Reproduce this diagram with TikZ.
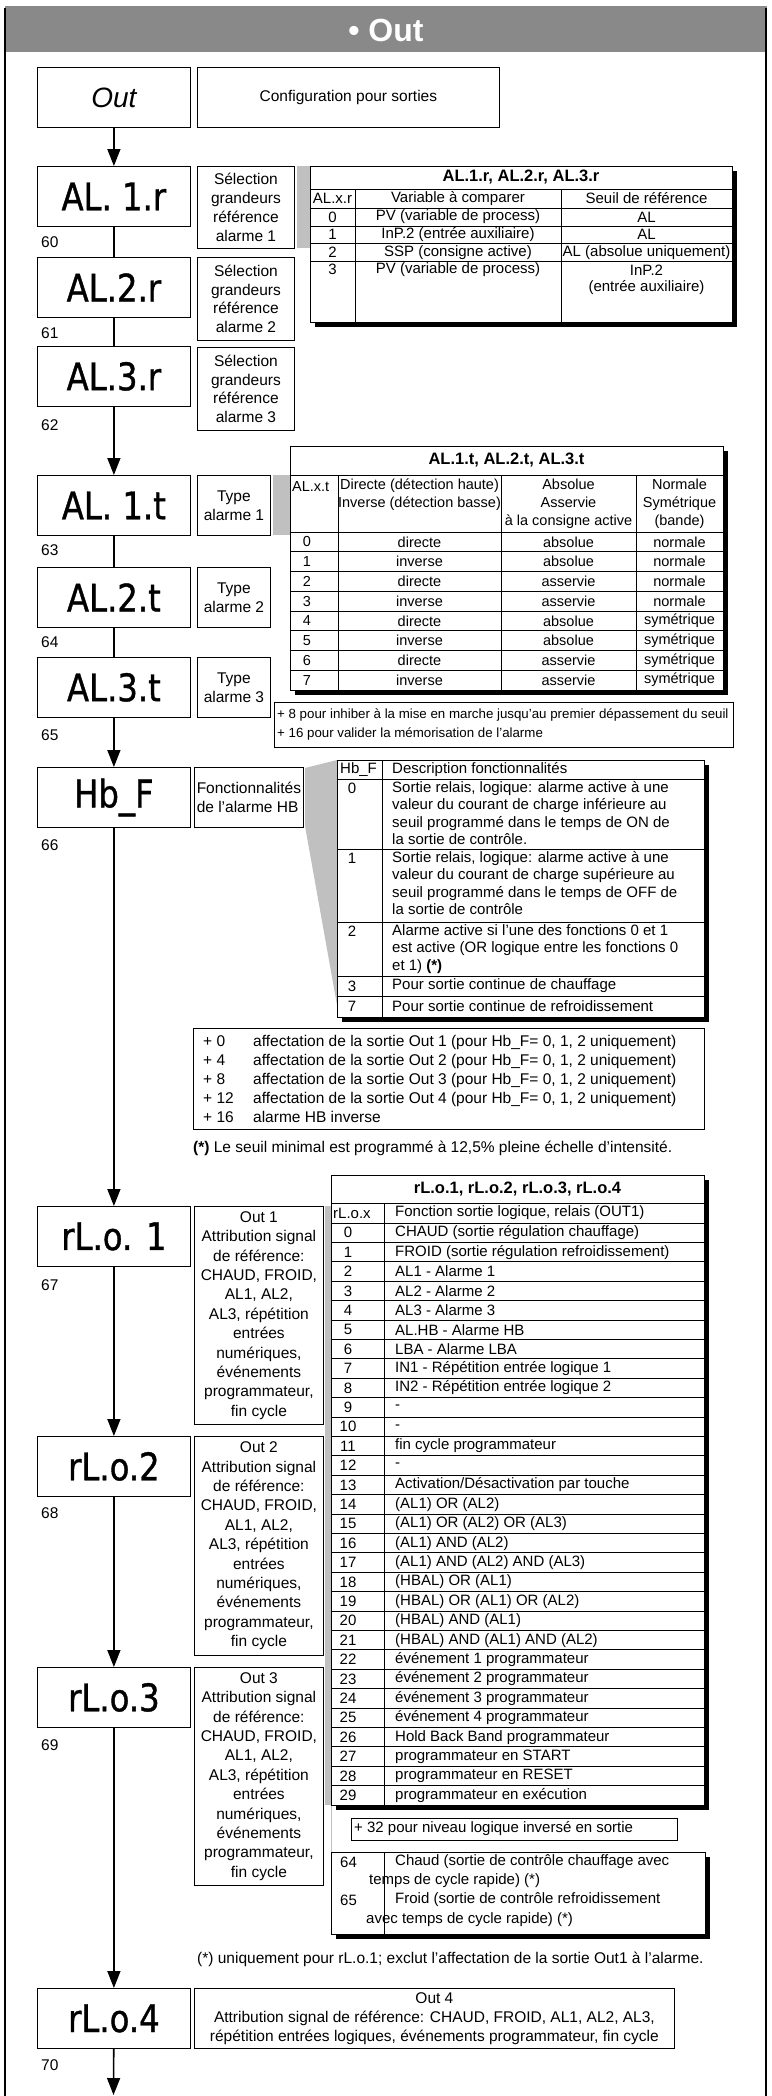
\documentclass[tikz,border=0pt]{standalone}
\usepackage{fontspec}
\setmainfont{Liberation Sans}
\newfontfamily\segfont{DejaVu Sans}[FakeStretch=0.85, FakeBold=1]
\usetikzlibrary{arrows.meta,shadows}
\definecolor{headgray}{RGB}{137,137,137}
\definecolor{wedgegray}{RGB}{192,192,192}

\begin{document}
\begin{tikzpicture}[x=1pt, y=-1pt,
    box/.style={draw, line width=0.8pt, inner sep=2pt, anchor=north west, align=center,
        font=\fontsize{15.5}{18.7}\selectfont},
    disp/.style={box, minimum width=153pt, minimum height=60pt,
        font=\segfont\fontsize{38}{38}\selectfont},
    pnum/.style={anchor=west, inner sep=0pt, font=\fontsize{15.5}{15.5}\selectfont},
    tab/.style={draw, line width=0.9pt, fill=white, anchor=north west, inner sep=0pt,
        drop shadow={shadow xshift=5pt, shadow yshift=-5pt, opacity=1, fill=black}},
    cell/.style={inner sep=0pt, font=\fontsize{15}{17.5}\selectfont},
    ttl/.style={inner sep=0pt, font=\bfseries\fontsize{16.5}{16.5}\selectfont},
    tline/.style={line width=0.8pt},
    flow/.style={line width=1.6pt, -{Triangle[length=17pt, width=13pt]}},
    link/.style={line width=1.6pt}
]
\useasboundingbox (0,0) rectangle (771,2096);

% header and frame
\fill[headgray] (5,6) rectangle (767,52);
\node[font=\bfseries\fontsize{32}{32}\selectfont, text=white] (title) at (386,30) {• Out};
\draw[line width=2.5pt] (5,8) -- (5,2096);
\draw[line width=2.5pt] (766,8) -- (766,2096);

% parameter column
\node[box, minimum width=153pt, minimum height=60pt, font=\itshape\fontsize{28}{28}\selectfont] (out) at (37,67) {Out};
\node[box, minimum width=302pt, minimum height=60pt] (conf) at (197,67) {Configuration pour sorties};

\node[disp] (al1r) at (37,166) {AL. 1.r};
\node[disp] (al2r) at (37,257) {AL.2.r};
\node[disp] (al3r) at (37,346) {AL.3.r};
\node[disp] (al1t) at (37,475) {AL. 1.t};
\node[disp] (al2t) at (37,567) {AL.2.t};
\node[disp] (al3t) at (37,657) {AL.3.t};
\node[disp] (hbf) at (37,767) {Hb\_F};
\node[disp] (rlo1) at (37,1206) {rL.o. 1};
\node[disp] (rlo2) at (37,1436) {rL.o.2};
\node[disp] (rlo3) at (37,1667) {rL.o.3};
\node[disp] (rlo4) at (37,1988) {rL.o.4};

\node[pnum] (n60) at (41,242) {60};
\node[pnum] (n61) at (41,333) {61};
\node[pnum] (n62) at (41,425) {62};
\node[pnum] (n63) at (41,550) {63};
\node[pnum] (n64) at (41,642) {64};
\node[pnum] (n65) at (41,735) {65};
\node[pnum] (n66) at (41,845) {66};
\node[pnum] (n67) at (41,1285) {67};
\node[pnum] (n68) at (41,1513) {68};
\node[pnum] (n69) at (41,1745) {69};
\node[pnum] (n70) at (41,2065) {70};

\coordinate (fin) at (113.5,2095);
\draw[flow] (out) -- (al1r);
\draw[link] (al1r) -- (al2r);
\draw[link] (al2r) -- (al3r);
\draw[flow] (al3r) -- (al1t);
\draw[link] (al1t) -- (al2t);
\draw[link] (al2t) -- (al3t);
\draw[flow] (al3t) -- (hbf);
\draw[flow] (hbf) -- (rlo1);
\draw[flow] (rlo1) -- (rlo2);
\draw[flow] (rlo2) -- (rlo3);
\draw[flow] (rlo3) -- (rlo4);
\draw[flow] (rlo4) -- (fin);

% descriptions
\node[box, minimum width=97pt, minimum height=82pt] (sel1) at (197,166) {Sélection\\grandeurs\\référence\\alarme 1};
\node[box, minimum width=97pt, minimum height=83pt] (sel2) at (197,257) {Sélection\\grandeurs\\référence\\alarme 2};
\node[box, minimum width=97pt, minimum height=83pt] (sel3) at (197,347) {Sélection\\grandeurs\\référence\\alarme 3};
\node[box, minimum width=73pt, minimum height=60pt] (typ1) at (197,475) {Type\\alarme 1};
\node[box, minimum width=73pt, minimum height=60pt] (typ2) at (197,567) {Type\\alarme 2};
\node[box, minimum width=73pt, minimum height=60pt] (typ3) at (197,657) {Type\\alarme 3};
\node[box, minimum width=109pt, minimum height=60pt, align=left] (fonct) at (194,767) {Fonctionnalités\\de l’alarme HB};
\node[box, minimum width=129pt, minimum height=218pt, font=\fontsize{15.5}{19.4}\selectfont] (o1) at (194,1206)
    {Out 1\\Attribution signal\\de référence:\\CHAUD, FROID,\\AL1, AL2,\\AL3, répétition\\entrées\\numériques,\\événements\\programmateur,\\fin cycle};
\node[box, minimum width=129pt, minimum height=219pt, font=\fontsize{15.5}{19.4}\selectfont] (o2) at (194,1436)
    {Out 2\\Attribution signal\\de référence:\\CHAUD, FROID,\\AL1, AL2,\\AL3, répétition\\entrées\\numériques,\\événements\\programmateur,\\fin cycle};
\node[box, minimum width=129pt, minimum height=218pt, font=\fontsize{15.5}{19.4}\selectfont] (o3) at (194,1667)
    {Out 3\\Attribution signal\\de référence:\\CHAUD, FROID,\\AL1, AL2,\\AL3, répétition\\entrées\\numériques,\\événements\\programmateur,\\fin cycle};
\node[box, minimum width=480pt, minimum height=60pt, font=\fontsize{15.5}{19}\selectfont] (o4) at (194,1988)
    {Out 4\\Attribution signal de référence: CHAUD, FROID, AL1, AL2, AL3,\\répétition entrées logiques, événements programmateur, fin cycle};

% grey links to the tables
\fill[wedgegray] (297,166) rectangle (310,248);
\fill[wedgegray] (273,475) rectangle (290,535);
\fill[wedgegray] (305,768) -- (337,760) -- (337,1005) -- (305,826) -- cycle;
\fill[wedgegray] (325,1206) rectangle (331,1805);
\draw[wedgegray, line width=0.8pt] (331,1805) -- (331,1852);

% table AL.x.r
\node[tab, minimum width=422pt, minimum height=156pt] (tabr) at (310,166) {};
\node[ttl] (tabrt) at (521,177.5) {AL.1.r, AL.2.r, AL.3.r};
\draw[tline] (310,189) -- (732,189);
\foreach \yy in {208,226,243,261} \draw[tline] (310,\yy) -- (732,\yy);
\draw[tline] (355,189) -- (355,322);
\draw[tline] (561,189) -- (561,322);
\node[cell] (rh1) at (332.5,198.5) {AL.x.r};
\node[cell] (rh2) at (458,198.5) {Variable à comparer};
\node[cell] (rh3) at (646.5,198.5) {Seuil de référence};
\foreach \n/\v/\s [count=\i from 0] in {0/PV (variable de process)/AL, 1/InP.2 (entrée auxiliaire)/AL,
    2/SSP (consigne active)/AL (absolue uniquement), 3/PV (variable de process)/InP.2} {
  \node[cell] (ra\i) at (332.5,{217+17.6*\i}) {\n};
  \node[cell] (rb\i) at (458,{217+17.6*\i}) {\v};
  \node[cell] (rc\i) at (646.5,{217+17.6*\i}) {\s};
}
\node[cell] (rc4) at (646.5,288) {(entrée auxiliaire)};

% table AL.x.t
\node[tab, minimum width=433pt, minimum height=244pt] (tabt) at (290,446) {};
\node[ttl] (tabtt) at (506.5,460.5) {AL.1.t, AL.2.t, AL.3.t};
\draw[tline] (290,475) -- (723,475);
\draw[tline] (290,532) -- (723,532);
\foreach \k in {1,...,7} \draw[tline] (290,{532+19.75*\k}) -- (723,{532+19.75*\k});
\foreach \xx in {338,501,636} \draw[tline] (\xx,475) -- (\xx,690);
\node[cell, anchor=west, font=\fontsize{14.5}{18}\selectfont] (th1) at (292,487) {AL.x.t};
\node[cell, anchor=north, align=center, font=\fontsize{14.5}{18}\selectfont] (th2) at (419.5,479)
    {Directe (détection haute)\\Inverse (détection basse)};
\node[cell, anchor=north, align=center, font=\fontsize{14.5}{18}\selectfont] (th3) at (568.5,479)
    {Absolue\\Asservie\\à la consigne active};
\node[cell, anchor=north, align=center, font=\fontsize{14.5}{18}\selectfont] (th4) at (679.5,479)
    {Normale\\Symétrique\\(bande)};
\foreach \d/\a/\s [count=\i from 0] in {directe/absolue/normale, inverse/absolue/normale,
    directe/asservie/normale, inverse/asservie/normale, directe/absolue/symétrique,
    inverse/absolue/symétrique, directe/asservie/symétrique, inverse/asservie/symétrique} {
  \node[cell, font=\fontsize{14.5}{18}\selectfont] (ta\i) at (307,{541.9+19.75*\i}) {\i};
  \node[cell, font=\fontsize{14.5}{18}\selectfont] (tb\i) at (419.5,{541.9+19.75*\i}) {\d};
  \node[cell, font=\fontsize{14.5}{18}\selectfont] (tc\i) at (568.5,{541.9+19.75*\i}) {\a};
  \node[cell, font=\fontsize{14.5}{18}\selectfont] (td\i) at (679.5,{541.9+19.75*\i}) {\s};
}

\node[box, minimum width=459pt, minimum height=45pt] (plus8) at (274,702) {};
\node[cell, anchor=west, align=left, font=\fontsize{13.3}{19.5}\selectfont] (plus8t) at (277,724.5)
    {+ 8 pour inhiber à la mise en marche jusqu’au premier dépassement du seuil\\+ 16 pour valider la mémorisation de l’alarme};

% table Hb_F
\node[tab, minimum width=367pt, minimum height=257pt] (tabhb) at (337,760) {};
\draw[tline] (382,760) -- (382,1017);
\foreach \yy in {779,849,922,976,996} \draw[tline] (337,\yy) -- (704,\yy);
\node[cell, anchor=west] (hbh1) at (340,769.5) {Hb\_F};
\node[cell, anchor=west] (hbh2) at (392,769.5) {Description fonctionnalités};
\node[cell] (hbn0) at (352,788) {0};
\node[cell] (hbn1) at (352,858) {1};
\node[cell] (hbn2) at (352,931) {2};
\node[cell] (hbn3) at (352,986) {3};
\node[cell] (hbn7) at (352,1006.5) {7};
\node[cell, anchor=north west, align=left] (hbd0) at (392,781)
    {Sortie relais, logique: alarme active à une\\valeur du courant de charge inférieure au\\seuil programmé dans le temps de ON de\\la sortie de contrôle.};
\node[cell, anchor=north west, align=left] (hbd1) at (392,851)
    {Sortie relais, logique: alarme active à une\\valeur du courant de charge supérieure au\\seuil programmé dans le temps de OFF de\\la sortie de contrôle};
\node[cell, anchor=north west, align=left] (hbd2) at (392,924)
    {Alarme active si l’une des fonctions 0 et 1\\est active (OR logique entre les fonctions 0\\et 1) \textbf{(*)}};
\node[cell, anchor=west] (hbd3) at (392,986) {Pour sortie continue de chauffage};
\node[cell, anchor=west] (hbd7) at (392,1006.5) {Pour sortie continue de refroidissement};

\node[box, minimum width=511pt, minimum height=101pt] (plus0) at (193,1028) {};
\node[cell, anchor=west, align=left, font=\fontsize{15.5}{19}\selectfont] (plus0t) at (203,1078.5)
    {\makebox[50pt][l]{+ 0}affectation de la sortie Out 1 (pour Hb\_F= 0, 1, 2 uniquement)\\
     \makebox[50pt][l]{+ 4}affectation de la sortie Out 2 (pour Hb\_F= 0, 1, 2 uniquement)\\
     \makebox[50pt][l]{+ 8}affectation de la sortie Out 3 (pour Hb\_F= 0, 1, 2 uniquement)\\
     \makebox[50pt][l]{+ 12}affectation de la sortie Out 4 (pour Hb\_F= 0, 1, 2 uniquement)\\
     \makebox[50pt][l]{+ 16}alarme HB inverse};
\node[cell, anchor=west, font=\fontsize{15.5}{15.5}\selectfont] (note1) at (193,1148)
    {\textbf{(*)} Le seuil minimal est programmé à 12,5\% pleine échelle d’intensité.};

% table rL.o.x
\node[tab, minimum width=373pt, minimum height=630pt] (tabrl) at (331,1175) {};
\node[ttl] (tabrlt) at (517.5,1189) {rL.o.1, rL.o.2, rL.o.3, rL.o.4};
\draw[tline] (331,1203) -- (704,1203);
\draw[tline] (331,1223) -- (704,1223);
\draw[tline] (384,1203) -- (384,1805);
\foreach \k in {1,...,29} \draw[tline] (331,{1223+19.4*\k}) -- (704,{1223+19.4*\k});
\node[cell, anchor=west] (rlh1) at (333,1213) {rL.o.x};
\node[cell, anchor=west] (rlh2) at (395,1213) {Fonction sortie logique, relais (OUT1)};
\foreach \t [count=\i from 0] in {CHAUD (sortie régulation chauffage), FROID (sortie régulation refroidissement),
    AL1 - Alarme 1, AL2 - Alarme 2, AL3 - Alarme 3, AL.HB - Alarme HB, LBA - Alarme LBA,
    IN1 - Répétition entrée logique 1, IN2 - Répétition entrée logique 2, -, -, fin cycle programmateur, -,
    Activation/Désactivation par touche, (AL1) OR (AL2), (AL1) OR (AL2) OR (AL3), (AL1) AND (AL2),
    (AL1) AND (AL2) AND (AL3), (HBAL) OR (AL1), (HBAL) OR (AL1) OR (AL2), (HBAL) AND (AL1),
    (HBAL) AND (AL1) AND (AL2), événement 1 programmateur, événement 2 programmateur,
    événement 3 programmateur, événement 4 programmateur, Hold Back Band programmateur,
    programmateur en START, programmateur en RESET, programmateur en exécution} {
  \node[cell] (rn\i) at (348,{1232.7+19.4*\i}) {\i};
  \node[cell, anchor=west] (rt\i) at (395,{1232.7+19.4*\i}) {\t};
}

\node[box, minimum width=326pt, minimum height=22pt] (plus32) at (351,1818) {};
\node[cell, anchor=west] (plus32t) at (354,1829) {+ 32 pour niveau logique inversé en sortie};

\node[tab, minimum width=374pt, minimum height=82pt] (tab64) at (331,1852) {};
\draw[tline] (384,1852) -- (384,1934);
\node[cell, anchor=west] (c64) at (340,1862) {64};
\node[cell, anchor=west] (c64a) at (395,1862) {Chaud (sortie de contrôle chauffage avec};
\node[cell, anchor=west] (c64b) at (369,1881) {temps de cycle rapide) (*)};
\node[cell, anchor=west] (c65) at (340,1900) {65};
\node[cell, anchor=west] (c65a) at (395,1900) {Froid (sortie de contrôle refroidissement};
\node[cell, anchor=west] (c65b) at (366,1920) {avec temps de cycle rapide) (*)};

\node[cell, anchor=west, font=\fontsize{15.5}{15.5}\selectfont] (note2) at (197,1959)
    {(*) uniquement pour rL.o.1; exclut l’affectation de la sortie Out1 à l’alarme.};

\end{tikzpicture}
\end{document}
